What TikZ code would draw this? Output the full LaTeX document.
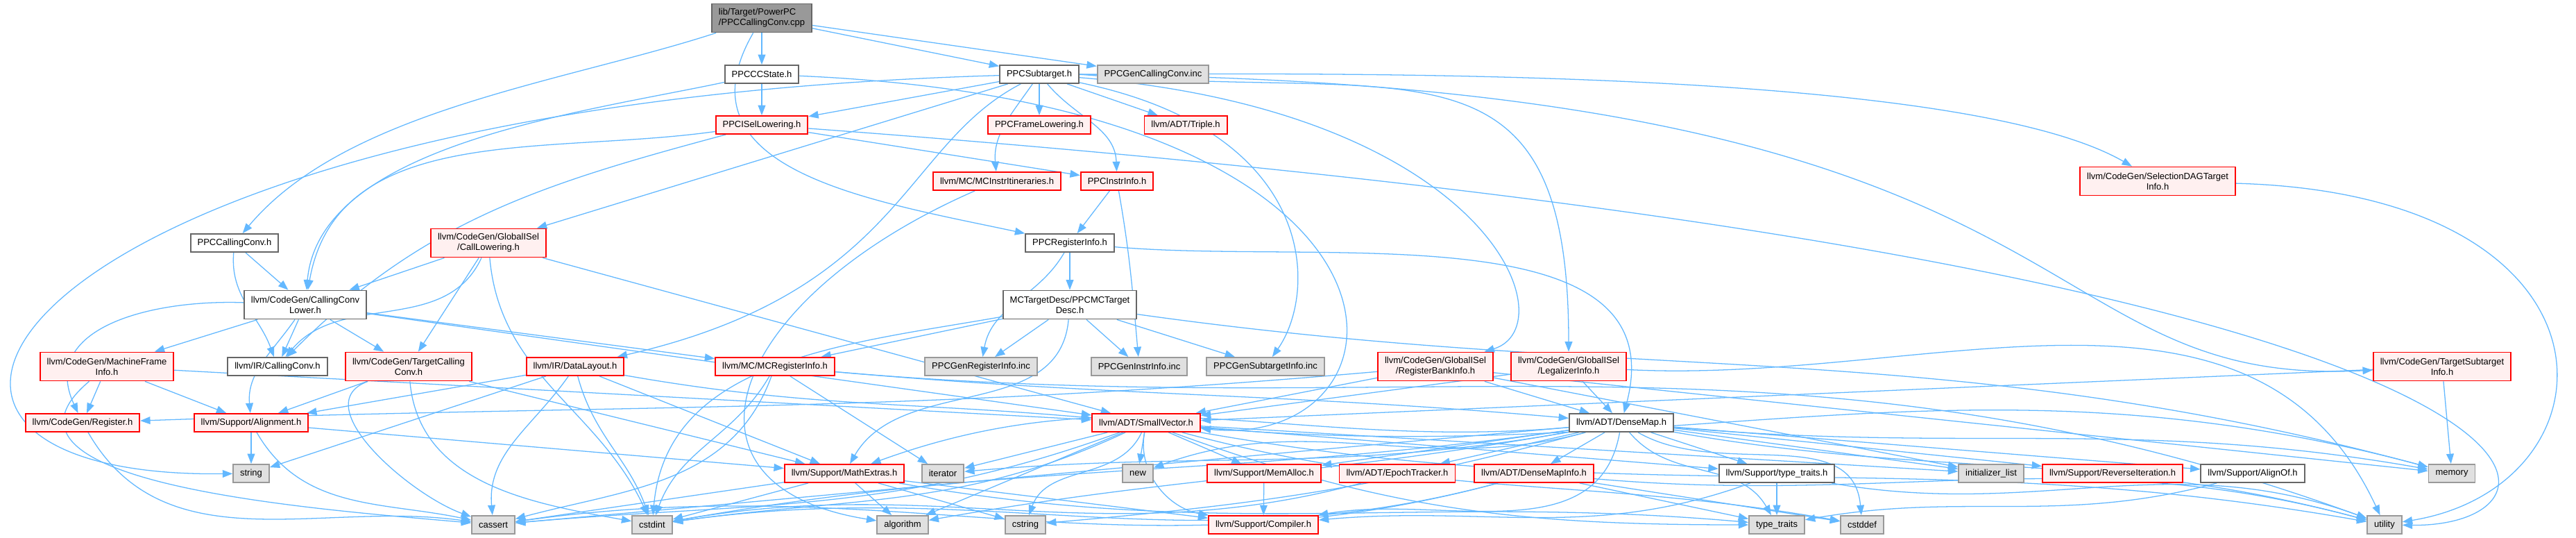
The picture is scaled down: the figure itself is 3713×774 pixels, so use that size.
\documentclass[tikz,border=0pt]{standalone}
\usepackage{fontspec}
\setmainfont{Liberation Sans}
\usepackage{tikz}
\usetikzlibrary{arrows.meta,backgrounds}
\definecolor{cEdge}{HTML}{63B8FF}
\definecolor{cRed}{HTML}{FF0000}
\definecolor{cRedBg}{HTML}{FFF0F0}
\definecolor{cLine}{HTML}{666666}
\definecolor{cSys}{HTML}{E0E0E0}
\definecolor{cSysLine}{HTML}{999999}
\definecolor{cRoot}{HTML}{999999}
\tikzset{
  >={Triangle[length=3.6pt,width=2.7pt]},
  hbox/.style={rectangle,draw,line width=0.45pt,inner xsep=2.5pt,inner ysep=0pt,
               minimum height=6.5pt,align=center,font=\fontsize{3.25}{3.75}\selectfont},
  hred/.style={hbox,fill=cRedBg,draw=cRed},
  hwht/.style={hbox,fill=white,draw=cLine},
  hsys/.style={hbox,fill=cSys,draw=cSysLine},
  hroot/.style={hbox,fill=cRoot,draw=cLine,align=left},
  two/.style={minimum height=10.25pt},
  dep/.style={->,line width=0.32pt,cEdge},
}
\begin{document}
\begin{tikzpicture}[x=0.25pt,y=-0.25pt]
  \useasboundingbox (0,0) rectangle (3713,774);
  \node[hroot,two] (root) at (1098,26) {lib/Target/PowerPC\\/PPCCallingConv.cpp};
  \node[hwht] (cc) at (1098,107) {PPCCCState.h};
  \node[hwht] (sub) at (1498,107) {PPCSubtarget.h};
  \node[hsys] (gcc) at (1662,107) {PPCGenCallingConv.inc};
  \node[hred] (isel) at (1098,180) {PPCISelLowering.h};
  \node[hred] (frl) at (1498,180) {PPCFrameLowering.h};
  \node[hred] (tri) at (1709,180) {llvm/ADT/Triple.h};
  \node[hred] (iti) at (1437,261) {llvm/MC/MCInstrItineraries.h};
  \node[hred] (ii) at (1610,261) {PPCInstrInfo.h};
  \node[hred,two] (sdag) at (3110,261) {llvm/CodeGen/SelectionDAGTarget\\Info.h};
  \node[hwht] (pcc) at (338,350) {PPCCallingConv.h};
  \node[hred,two] (cl) at (704,350) {llvm/CodeGen/GlobalISel\\/CallLowering.h};
  \node[hwht] (ri) at (1542,350) {PPCRegisterInfo.h};
  \node[hwht,two] (ccl) at (440,439) {llvm/CodeGen/CallingConv\\Lower.h};
  \node[hwht,two] (mcd) at (1542,439) {MCTargetDesc/PPCMCTarget\\Desc.h};
  \node[hred,two] (mfi) at (154,528) {llvm/CodeGen/MachineFrame\\Info.h};
  \node[hwht] (ircc) at (400,528) {llvm/IR/CallingConv.h};
  \node[hred,two] (tcc) at (589,528) {llvm/CodeGen/TargetCalling\\Conv.h};
  \node[hred] (dl) at (829,528) {llvm/IR/DataLayout.h};
  \node[hred] (mcri) at (1117,528) {llvm/MC/MCRegisterInfo.h};
  \node[hsys] (gri) at (1414,528) {PPCGenRegisterInfo.inc};
  \node[hsys] (gii) at (1642,528) {PPCGenInstrInfo.inc};
  \node[hsys] (gsi) at (1824,528) {PPCGenSubtargetInfo.inc};
  \node[hred,two] (rbi) at (2069,528) {llvm/CodeGen/GlobalISel\\/RegisterBankInfo.h};
  \node[hred,two] (li) at (2261,528) {llvm/CodeGen/GlobalISel\\/LegalizerInfo.h};
  \node[hred,two] (tsi) at (3520,528) {llvm/CodeGen/TargetSubtarget\\Info.h};
  \node[hred] (reg) at (119,609) {llvm/CodeGen/Register.h};
  \node[hred] (al) at (362,609) {llvm/Support/Alignment.h};
  \node[hred] (sv) at (1652,609) {llvm/ADT/SmallVector.h};
  \node[hwht] (dm) at (2337,609) {llvm/ADT/DenseMap.h};
  \node[hsys] (str) at (362,682) {string};
  \node[hred] (me) at (1217,682) {llvm/Support/MathExtras.h};
  \node[hsys] (it) at (1359,682) {iterator};
  \node[hsys] (nw) at (1640,682) {new};
  \node[hred] (ma) at (1822,682) {llvm/Support/MemAlloc.h};
  \node[hred] (et) at (2014,682) {llvm/ADT/EpochTracker.h};
  \node[hred] (dmi) at (2211,682) {llvm/ADT/DenseMapInfo.h};
  \node[hwht] (tth) at (2561,682) {llvm/Support/type\_traits.h};
  \node[hsys] (il) at (2870,682) {initializer\_list};
  \node[hred] (rev) at (3045,682) {llvm/Support/ReverseIteration.h};
  \node[hwht] (ao) at (3247,682) {llvm/Support/AlignOf.h};
  \node[hsys] (mem) at (3534,682) {memory};
  \node[hsys] (ca) at (711,756) {cassert};
  \node[hsys] (ci) at (940,756) {cstdint};
  \node[hsys] (alg) at (1301,756) {algorithm};
  \node[hsys] (cs) at (1478,756) {cstring};
  \node[hred] (comp) at (1821,756) {llvm/Support/Compiler.h};
  \node[hsys] (tt) at (2561,756) {type\_traits};
  \node[hsys] (cd) at (2684,756) {cstddef};
  \node[hsys] (ut) at (3437,756) {utility};
  \begin{scope}[on background layer]
    \draw[dep] (root)--(cc); \draw[dep] (root)--(sub); \draw[dep] (root)--(gcc);
    \draw[dep] (root) to[out=198,in=50,looseness=0.8] (pcc);
    \draw[dep] (root) to[out=240,in=168,looseness=1.2] (ri);
    \draw[dep] (cc)--(isel);
    \draw[dep] (cc) to[out=192,in=85,looseness=0.8] (ccl);
    \draw[dep] (cc) .. controls (2100,150) and (2050,650) .. (sv);
    \draw[dep] (sub)--(isel); \draw[dep] (sub)--(frl); \draw[dep] (sub)--(tri);
    \draw[dep] (sub) to[out=235,in=95] (iti);
    \draw[dep] (sub) to[out=-50,in=92] (ii);
    \draw[dep] (sub)--(cl);
    \draw[dep] (sub) .. controls (1300,210) and (1300,420) .. (dl);
    \draw[dep] (sub) .. controls (0,150) and (-300,690) .. (str);
    \draw[dep] (sub) .. controls (2150,160) and (2260,470) .. (rbi);
    \draw[dep] (sub.east) to[out=-5,in=90,looseness=1.5] (li.north);
    \draw[dep] (sub.east) to[out=0,in=150,looseness=0.5] (sdag);
    \draw[dep] (sub) .. controls (3050,120) and (2900,560) .. (tsi);
    \draw[dep] (sub) .. controls (1900,190) and (1900,420) .. (gsi);
    \draw[dep] (isel)--(ii);
    \draw[dep] (isel) to[out=188,in=80] (ccl);
    \draw[dep] (isel) to[out=195,in=45] (ircc);
    \draw[dep] (isel) .. controls (3800,380) and (3750,760) .. (ut);
    \draw[dep] (pcc)--(ccl);
    \draw[dep] (pcc) to[out=265,in=110] (ircc);
    \draw[dep] (ii)--(ri);
    \draw[dep] (ii) to[out=-80,in=95] (gii);
    \draw[dep] (iti) .. controls (1050,430) and (950,700) .. (alg);
    \draw[dep] (ri)--(mcd);
    \draw[dep] (ri) to[out=240,in=80] (gri);
    \draw[dep] (ri) to[out=-5,in=75] (dm);
    \draw[dep] (mcd)--(gri); \draw[dep] (mcd)--(gii); \draw[dep] (mcd)--(gsi); \draw[dep] (mcd)--(mcri);
    \draw[dep] (mcd) to[out=190,in=85] (ci);
    \draw[dep] (mcd) to[out=-8,in=165] (mem);
    \draw[dep] (mcd) to[out=265,in=60] (me);
    \draw[dep] (mcri)--(it);
    \draw[dep] (mcri) to[out=250,in=15] (ca);
    \draw[dep] (mcri) to[out=240,in=70] (ci);
    \draw[dep] (mcri) to[out=-5,in=175] (dm);
    \draw[dep] (mcri) to[out=-5,in=160] (ut);
    \draw[dep] (dl) to[out=-10,in=175] (sv);
    \draw[dep] (dl)--(al); \draw[dep] (dl)--(str); \draw[dep] (dl)--(me);
    \draw[dep] (dl) to[out=235,in=95] (ca);
    \draw[dep] (dl) to[out=-75,in=110] (ci);
    \draw[dep] (tcc)--(al); \draw[dep] (tcc)--(me);
    \draw[dep] (tcc) to[out=200,in=160] (ca);
    \draw[dep] (tcc) to[out=-85,in=170] (ci);
    \draw[dep] (ccl)--(mfi); \draw[dep] (ccl)--(ircc); \draw[dep] (ccl)--(tcc);
    \draw[dep] (ccl) to[out=235,in=95] (al);
    \draw[dep] (ccl) to[out=178,in=115,looseness=1.2] (reg);
    \draw[dep] (ccl)--(sv); \draw[dep] (ccl)--(mcri);
    \draw[dep] (cl)--(ccl); \draw[dep] (cl)--(tcc); \draw[dep] (cl)--(sv);
    \draw[dep] (cl) to[out=245,in=50] (ircc);
    \draw[dep] (cl) to[out=-85,in=115] (ci);
    \draw[dep] (mfi)--(reg); \draw[dep] (mfi)--(al); \draw[dep] (mfi)--(sv);
    \draw[dep] (mfi) to[out=220,in=175] (ca);
    \draw[dep] (reg) to[out=-60,in=172] (ca);
    \draw[dep] (al)--(str); \draw[dep] (al)--(me);
    \draw[dep] (al) to[out=-60,in=168] (ca);
    \draw[dep] (rbi)--(dm); \draw[dep] (rbi)--(sv); \draw[dep] (rbi)--(il); \draw[dep] (rbi)--(mem);
    \draw[dep] (rbi) to[out=185,in=2] (reg);
    \draw[dep] (li)--(dm); \draw[dep] (li)--(sv);
    \draw[dep] (li) to[out=-3,in=115] (ut);
    \draw[dep] (tsi)--(mem); \draw[dep] (tsi)--(sv);
    \draw[dep] (sdag) .. controls (3800,280) and (3780,700) .. (ut);
    \draw[dep] (sv)--(it); \draw[dep] (sv)--(nw); \draw[dep] (sv)--(ma); \draw[dep] (sv)--(alg);
    \draw[dep] (sv) to[out=245,in=70] (cs);
    \draw[dep] (sv) to[out=260,in=170] (comp);
    \draw[dep] (sv) to[out=200,in=5] (ca);
    \draw[dep] (sv) to[out=205,in=8] (ci);
    \draw[dep] (sv)--(tth); \draw[dep] (sv)--(il);
    \draw[dep] (sv) to[out=-5,in=165] (mem);
    \draw[dep] (sv) to[out=-10,in=170] (ut);
    \draw[dep] (sv) to[out=-20,in=180] (tt);
    \draw[dep] (sv) to[out=-15,in=170] (cd);
    \draw[dep] (dm)--(ma); \draw[dep] (dm)--(et); \draw[dep] (dm)--(dmi); \draw[dep] (dm)--(tth);
    \draw[dep] (dm)--(il); \draw[dep] (dm)--(rev); \draw[dep] (dm)--(ao);
    \draw[dep] (dm) to[out=-5,in=170] (mem);
    \draw[dep] (dm) to[out=-10,in=165] (ut);
    \draw[dep] (dm) to[out=-50,in=120] (tt);
    \draw[dep] (dm) to[out=-30,in=95] (cd);
    \draw[dep] (dm) to[out=260,in=10] (comp);
    \draw[dep] (dm) to[out=190,in=10] (alg);
    \draw[dep] (dm) to[out=195,in=5] (cs);
    \draw[dep] (dm) to[out=185,in=5] (ca);
    \draw[dep] (dm) to[out=188,in=10] (ci);
    \draw[dep] (dm) to[out=190,in=5] (it);
    \draw[dep] (dm) to[out=195,in=20] (nw);
    \draw[dep] (dm) to[out=185,in=20] (me);
    \draw[dep] (me)--(alg); \draw[dep] (me)--(cs); \draw[dep] (me)--(ca); \draw[dep] (me)--(ci);
    \draw[dep] (me)--(comp);
    \draw[dep] (me) to[out=-10,in=175] (tt);
    \draw[dep] (ma)--(comp);
    \draw[dep] (et) to[out=195,in=10] (ci);
    \draw[dep] (dmi) to[out=195,in=8] (ca);
    \draw[dep] (dmi) to[out=195,in=8] (ci);
    \draw[dep] (dmi)--(tt); \draw[dep] (dmi)--(cd);
    \draw[dep] (dmi) to[out=-5,in=165] (ut);
    \draw[dep] (tth)--(tt);
    \draw[dep] (tth) to[out=200,in=5] (comp);
    \draw[dep] (tth) to[out=-10,in=160] (ut);
    \draw[dep] (ao) to[out=195,in=10] (tt);
  \end{scope}
\end{tikzpicture}
\end{document}
